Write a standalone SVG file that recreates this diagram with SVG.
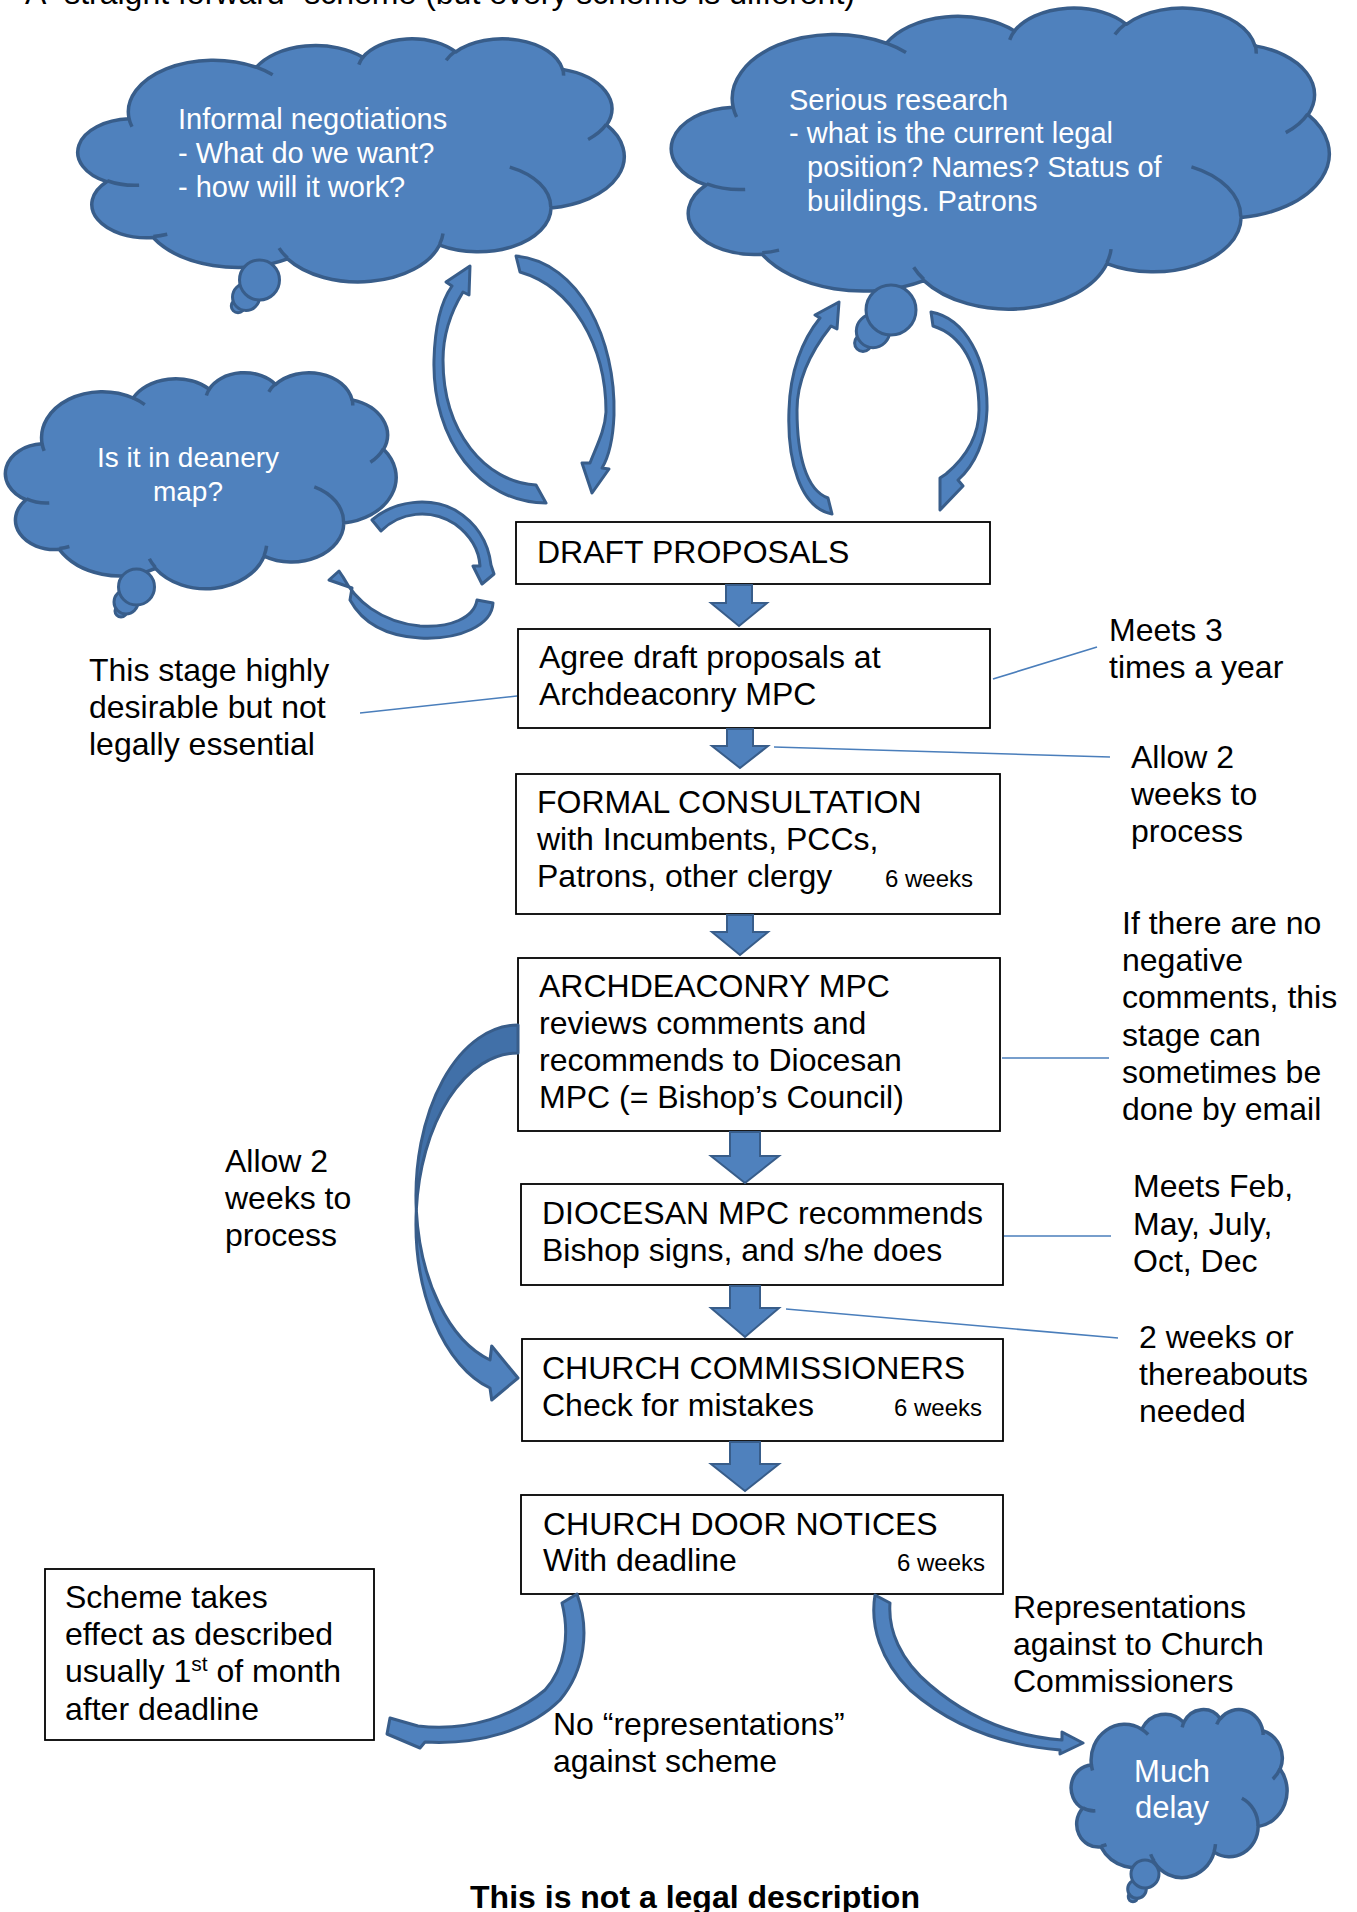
<svg xmlns="http://www.w3.org/2000/svg" xmlns:xlink="http://www.w3.org/1999/xlink" width="1357" height="1912" viewBox="0 0 1357 1912">
<style>
.cl{fill:#4f81bd;stroke:#385d8a;stroke-width:3.5;vector-effect:non-scaling-stroke;stroke-linejoin:round}
.ci{fill:none;stroke:#385d8a;stroke-width:3.5;vector-effect:non-scaling-stroke}
.bub{fill:#4f81bd;stroke:#385d8a;stroke-width:3}
.box{fill:#fff;stroke:#000;stroke-width:1.8}
.t{font-family:"Liberation Sans",Arial,sans-serif;font-size:32px;fill:#000}
.s{font-size:24px}
.w{fill:#fff;font-size:29px}
.ln{stroke:#4a7ebb;stroke-width:1.6;fill:none}
.blk{fill:#4f81bd;stroke:#385d8a;stroke-width:2;stroke-linejoin:miter}
.ca{fill:#4f81bd;stroke:#385d8a;stroke-width:3;stroke-linejoin:round}
.cb{fill:#4170a8;stroke:#385d8a;stroke-width:3;stroke-linejoin:round}
</style>
<defs>
<path id="cloud" class="cl" d="M3900,14370 A6753,9190 0 0 1 14005,5202 A5333,7267 0 0 1 22455,3433 A4365,5945 0 0 1 29832,2481 A4857,6595 0 0 1 38318,5576 A5333,7273 0 0 1 41819,15459 A6775,9220 0 0 1 37404,30202 A5785,7867 0 0 1 28556,36812 A6752,9215 0 0 1 16481,39266 A7720,10543 0 0 1 5806,35473 A4360,5918 0 0 1 2116,25548 A4345,5945 0 0 1 3900,14370 Z"/>
<path id="cloudin" class="ci" d="M4693,26177 A4345,5945 0 0 1 2161,25381 M6928,34899 A4360,5918 0 0 1 5820,35280 M16478,39090 A6752,9215 0 0 1 15809,37347 M28827,34751 A6752,9215 0 0 1 28560,36660 M34129,22954 A5785,7867 0 0 1 37380,30090 M41798,15354 A5333,7273 0 0 1 40349,18032 M38324,5426 A4857,6595 0 0 1 38400,6689 M29078,3952 A4857,6595 0 0 1 29820,2340 M22141,4720 A4365,5945 0 0 1 22500,3331 M14000,5192 A6753,9190 0 0 1 15300,6540 M4127,15789 A6753,9190 0 0 1 3900,14370"/>
</defs>

<text class="t" x="25" y="4">A “straight forward” scheme (but every scheme is different)</text>

<g id="cloud-informal">
<use xlink:href="#cloud" transform="translate(80,38) scale(0.012593,0.005625)"/>
<circle class="bub" cx="238" cy="306" r="6.7"/>
<circle class="bub" cx="246" cy="297" r="13.5"/>
<circle class="bub" cx="259.5" cy="280" r="20"/>
<use xlink:href="#cloudin" transform="translate(80,38) scale(0.012593,0.005625)"/>
<text class="t w" x="178" y="129">Informal negotiations</text>
<text class="t w" x="178" y="163">- What do we want?</text>
<text class="t w" x="178" y="197">- how will it work?</text>
</g>

<g id="cloud-research">
<use xlink:href="#cloud" transform="translate(674,7) scale(0.015162,0.006968)"/>
<circle class="bub" cx="863" cy="343" r="8.4"/>
<circle class="bub" cx="873" cy="331" r="16.7"/>
<circle class="bub" cx="891" cy="310" r="25"/>
<use xlink:href="#cloudin" transform="translate(674,7) scale(0.015162,0.006968)"/>
<text class="t w" x="789" y="110">Serious research</text>
<text class="t w" x="789" y="143">- what is the current legal</text>
<text class="t w" x="807" y="177">position? Names? Status of</text>
<text class="t w" x="807" y="211">buildings. Patrons</text>
</g>

<g id="cloud-deanery">
<use xlink:href="#cloud" transform="translate(7,372) scale(0.0090046,0.005)"/>
<circle class="bub" cx="121" cy="611" r="6"/>
<circle class="bub" cx="126" cy="602" r="12"/>
<circle class="bub" cx="136.5" cy="587" r="18"/>
<use xlink:href="#cloudin" transform="translate(7,372) scale(0.0090046,0.005)"/>
<text class="t w" x="188" y="467" text-anchor="middle" style="font-size:28px">Is it in deanery</text>
<text class="t w" x="188" y="501" text-anchor="middle" style="font-size:28px">map?</text>
</g>

<g id="cloud-delay">
<use xlink:href="#cloud" transform="translate(1072,1709) scale(0.0049769,0.0038889)"/>
<circle class="bub" cx="1133" cy="1897" r="4.7"/>
<circle class="bub" cx="1137" cy="1889" r="9.3"/>
<circle class="bub" cx="1145" cy="1874" r="14"/>
<use xlink:href="#cloudin" transform="translate(1072,1709) scale(0.0049769,0.0038889)"/>
<text class="t w" x="1172" y="1782" text-anchor="middle" style="font-size:31px">Much</text>
<text class="t w" x="1172" y="1818" text-anchor="middle" style="font-size:31px">delay</text>
</g>

<g id="box-draft">
<rect class="box" x="516" y="522" width="474" height="62"/>
<text class="t" x="537" y="563">DRAFT PROPOSALS</text>
</g>
<g id="box-agree">
<rect class="box" x="518" y="629" width="472" height="99"/>
<text class="t" x="539" y="668">Agree draft proposals at</text>
<text class="t" x="539" y="705">Archdeaconry MPC</text>
</g>
<g id="box-formal">
<rect class="box" x="516" y="774" width="484" height="140"/>
<text class="t" x="537" y="813">FORMAL CONSULTATION</text>
<text class="t" x="537" y="850">with Incumbents, PCCs,</text>
<text class="t" x="537" y="887">Patrons, other clergy</text>
<text class="t s" x="885" y="887">6 weeks</text>
</g>
<g id="box-arch">
<rect class="box" x="518" y="958" width="482" height="173"/>
<text class="t" x="539" y="997">ARCHDEACONRY MPC</text>
<text class="t" x="539" y="1034">reviews comments and</text>
<text class="t" x="539" y="1071">recommends to Diocesan</text>
<text class="t" x="539" y="1108">MPC (= Bishop’s Council)</text>
</g>
<g id="box-diocesan">
<rect class="box" x="521" y="1184" width="482" height="101"/>
<text class="t" x="542" y="1224">DIOCESAN MPC recommends</text>
<text class="t" x="542" y="1261">Bishop signs, and s/he does</text>
</g>
<g id="box-commissioners">
<rect class="box" x="522" y="1339" width="481" height="102"/>
<text class="t" x="542" y="1379">CHURCH COMMISSIONERS</text>
<text class="t" x="542" y="1416">Check for mistakes</text>
<text class="t s" x="894" y="1416">6 weeks</text>
</g>
<g id="box-door">
<rect class="box" x="521" y="1495" width="482" height="99"/>
<text class="t" x="543" y="1535">CHURCH DOOR NOTICES</text>
<text class="t" x="543" y="1571">With deadline</text>
<text class="t s" x="897" y="1571">6 weeks</text>
</g>
<g id="box-scheme">
<rect class="box" x="45" y="1569" width="329" height="171"/>
<text class="t" x="65" y="1608">Scheme takes</text>
<text class="t" x="65" y="1645">effect as described</text>
<text class="t" x="65" y="1682">usually 1<tspan dy="-11" style="font-size:21px">st</tspan><tspan dy="11"> of month</tspan></text>
<text class="t" x="65" y="1720">after deadline</text>
</g>

<g id="notes">
<text class="t" x="89" y="681">This stage highly</text>
<text class="t" x="89" y="718">desirable but not</text>
<text class="t" x="89" y="755">legally essential</text>
<text class="t" x="1109" y="641">Meets 3</text>
<text class="t" x="1109" y="678">times a year</text>
<text class="t" x="1131" y="768">Allow 2</text>
<text class="t" x="1131" y="805">weeks to</text>
<text class="t" x="1131" y="842">process</text>
<text class="t" x="1122" y="934">If there are no</text>
<text class="t" x="1122" y="971">negative</text>
<text class="t" x="1122" y="1008">comments, this</text>
<text class="t" x="1122" y="1046">stage can</text>
<text class="t" x="1122" y="1083">sometimes be</text>
<text class="t" x="1122" y="1120">done by email</text>
<text class="t" x="1133" y="1197">Meets Feb,</text>
<text class="t" x="1133" y="1235">May, July,</text>
<text class="t" x="1133" y="1272">Oct, Dec</text>
<text class="t" x="1139" y="1348">2 weeks or</text>
<text class="t" x="1139" y="1385">thereabouts</text>
<text class="t" x="1139" y="1422">needed</text>
<text class="t" x="225" y="1172">Allow 2</text>
<text class="t" x="225" y="1209">weeks to</text>
<text class="t" x="225" y="1246">process</text>
<text class="t" x="1013" y="1618">Representations</text>
<text class="t" x="1013" y="1655">against to Church</text>
<text class="t" x="1013" y="1692">Commissioners</text>
<text class="t" x="553" y="1735">No “representations”</text>
<text class="t" x="553" y="1772">against scheme</text>
<text class="t" x="695" y="1908" text-anchor="middle" style="font-weight:bold">This is not a legal description</text>
</g>

<g id="connectors">
<line class="ln" x1="360" y1="713" x2="517" y2="696"/>
<line class="ln" x1="993" y1="679" x2="1097" y2="647"/>
<line class="ln" x1="774" y1="747" x2="1110" y2="757"/>
<line class="ln" x1="1002" y1="1058" x2="1109" y2="1058"/>
<line class="ln" x1="1004" y1="1236" x2="1111" y2="1236"/>
<line class="ln" x1="786" y1="1309" x2="1118" y2="1338"/>
<path class="blk" d="M726,585 H752 V603 H767 L739,626 L711,603 H726 Z"/>
<path class="blk" d="M727,729 H753 V746 H768 L740,768 L712,746 H727 Z"/>
<path class="blk" d="M727,915 H753 V932 H768 L740,955 L712,932 H727 Z"/>
<path class="blk" d="M730,1132 H760 V1156 H779 L745,1183 L711,1156 H730 Z"/>
<path class="blk" d="M730,1286 H760 V1308 H779 L745,1337 L711,1308 H730 Z"/>
<path class="blk" d="M730,1442 H760 V1464 H779 L745,1491 L711,1464 H730 Z"/>
<path class="cb" d="M518,1025 A102,171 0 0 0 416.3,1210 A102,171 0 0 1 518,1053 Z"/>
<path class="ca" d="M416.3,1210 A102,171 0 0 0 490,1388 L491.7,1400 L518,1378 L491.7,1346 L490,1360 A102,171 0 0 1 416.3,1210 Z"/>
<path class="ca" d="M546,503 C480,503 432,440 434,360 C435,322 442,300 452,286 L446,282 L470,266 L469,295 L463,292 C452,310 443,332 443,360 C443,432 485,482 536,485 Z"/>
<path class="ca" d="M516,256 C580,262 616,340 614,415 C613,440 608,458 602,468 L609,469 L592,493 L582,463 L590,463 C597,445 605,430 606,412 C606,345 572,287 520,272 Z"/>
<path class="ca" d="M832,514 C800,508 787,460 789,410 C790,372 802,340 820,318 L815,315 L839,302 L837,329 L831,326 C812,350 797,380 797,410 C797,455 806,490 828,498 Z"/>
<path class="ca" d="M931,312 C965,318 988,360 987,410 C986,440 975,465 958,480 L963,486 L940,510 L940,478 L946,474 C965,458 979,438 979,410 C979,365 962,335 933,326 Z"/>
<path class="ca" d="M372,520 C395,500 430,497 455,510 C475,522 488,540 491,565 L494,574 L482,584 L473,566 L480,566 C479,550 470,535 455,524 C430,508 400,512 381,531 Z"/>
<path class="ca" d="M493,603 C492,625 460,640 420,638 C385,636 362,622 350,600 L352,588 L329,580 L339,571 L343,577 C355,600 380,622 420,626 C450,628 474,618 477,600 Z"/>
<path class="ca" d="M577,1594 C590,1630 585,1670 560,1700 C530,1730 480,1745 425,1742 L420,1748 L387,1734 L390,1718 L418,1726 C470,1732 515,1715 545,1690 C565,1668 570,1635 562,1603 Z"/>
<path class="ca" d="M875,1595 C870,1625 880,1660 910,1690 C950,1725 1000,1745 1060,1750 L1060,1754 L1083,1743 L1062,1732 L1062,1740 C1010,1736 965,1715 930,1685 C900,1660 888,1630 890,1603 Z"/>
</g>
</svg>
